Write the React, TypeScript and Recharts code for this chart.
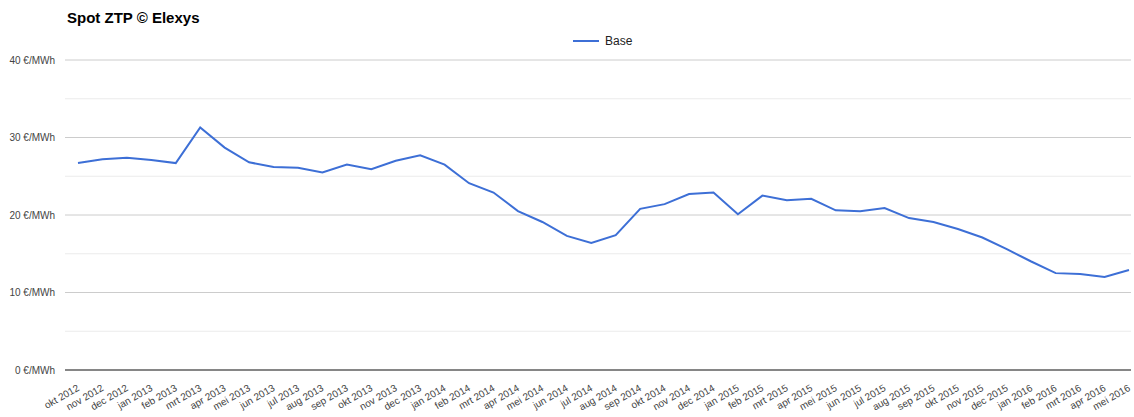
import React from "react";
import { LineChart, Line, XAxis, YAxis, CartesianGrid, ReferenceLine } from "recharts";

const months = [
  "okt 2012", "nov 2012", "dec 2012", "jan 2013", "feb 2013", "mrt 2013", "apr 2013", "mei 2013",
  "jun 2013", "jul 2013", "aug 2013", "sep 2013", "okt 2013", "nov 2013", "dec 2013", "jan 2014",
  "feb 2014", "mrt 2014", "apr 2014", "mei 2014", "jun 2014", "jul 2014", "aug 2014", "sep 2014",
  "okt 2014", "nov 2014", "dec 2014", "jan 2015", "feb 2015", "mrt 2015", "apr 2015", "mei 2015",
  "jun 2015", "jul 2015", "aug 2015", "sep 2015", "okt 2015", "nov 2015", "dec 2015", "jan 2016",
  "feb 2016", "mrt 2016", "apr 2016", "mei 2016",
];

const baseValues = [
  26.7, 27.2, 27.4, 27.1, 26.7, 31.3, 28.7, 26.8,
  26.2, 26.1, 25.5, 26.5, 25.9, 27.0, 27.7, 26.5,
  24.1, 22.9, 20.5, 19.1, 17.3, 16.4, 17.4, 20.8,
  21.4, 22.7, 22.9, 20.1, 22.5, 21.9, 22.1, 20.6,
  20.5, 20.9, 19.6, 19.1, 18.2, 17.1, 15.6, 14.0,
  12.5, 12.4, 12.0, 12.9,
];

const yTicks = [0, 10, 20, 30, 40];
const minorTicks = [5, 15, 25, 35];

const data = months.map((m, i) => ({ month: m, Base: baseValues[i] }));

const LINE_COLOR = "#3d6fd6";
const FONT = "Arial, 'Liberation Sans', sans-serif";

const XTick = (props: any) => {
  const { x, y, payload } = props;
  return (
    <g transform={`translate(${x - 2},${y + 5})`}>
      <text
        x={0}
        y={0}
        dy={8}
        textAnchor="end"
        transform="rotate(-30)"
        fontSize={10}
        fill="#444"
        fontFamily={FONT}
      >
        {payload.value}
      </text>
    </g>
  );
};

const YTick = (props: any) => {
  const { x, y, payload } = props;
  return (
    <text x={x - 2} y={y} dy={3.5} textAnchor="end" fontSize={10} fill="#444" fontFamily={FONT}>
      {`${payload.value} €/MWh`}
    </text>
  );
};

export default function App() {
  return (
    <div style={{ position: "relative", width: 1134, height: 417, background: "#fff" }}>
      <style>{`body{margin:0;}`}</style>
      <div
        style={{
          position: "absolute",
          left: 67,
          top: 9,
          fontFamily: FONT,
          fontWeight: "bold",
          fontSize: 15,
          color: "#000",
          zIndex: 2,
        }}
      >
        Spot ZTP © Elexys
      </div>
      <div
        style={{
          position: "absolute",
          left: 572,
          top: 34,
          display: "flex",
          alignItems: "center",
          fontFamily: FONT,
          fontSize: 12,
          color: "#222",
          zIndex: 2,
        }}
      >
        <svg width={28} height={14} style={{ marginRight: 5 }}>
          <line x1={1} y1={7} x2={27} y2={7} stroke={LINE_COLOR} strokeWidth={2} />
        </svg>
        <span>Base</span>
      </div>
      <LineChart
        width={1134}
        height={417}
        data={data}
        margin={{ top: 60, right: 3, left: 0, bottom: 0 }}
      >
        <CartesianGrid horizontal vertical={false} stroke="#cccccc" />
        {minorTicks.map((t) => (
          <ReferenceLine key={t} y={t} stroke="#ebebeb" strokeWidth={1} />
        ))}
        <XAxis
          dataKey="month"
          interval={0}
          tick={<XTick />}
          tickLine={false}
          axisLine={false}
          height={47}
          padding={{ left: 13, right: 2 }}
        />
        <YAxis
          domain={[0, 40]}
          ticks={yTicks}
          tick={<YTick />}
          tickLine={false}
          axisLine={false}
          width={65}
        />
        <ReferenceLine y={0} stroke="#666" strokeWidth={1.5} />
        <Line
          type="linear"
          dataKey="Base"
          stroke={LINE_COLOR}
          strokeWidth={2}
          dot={false}
          isAnimationActive={false}
        />
      </LineChart>
    </div>
  );
}
